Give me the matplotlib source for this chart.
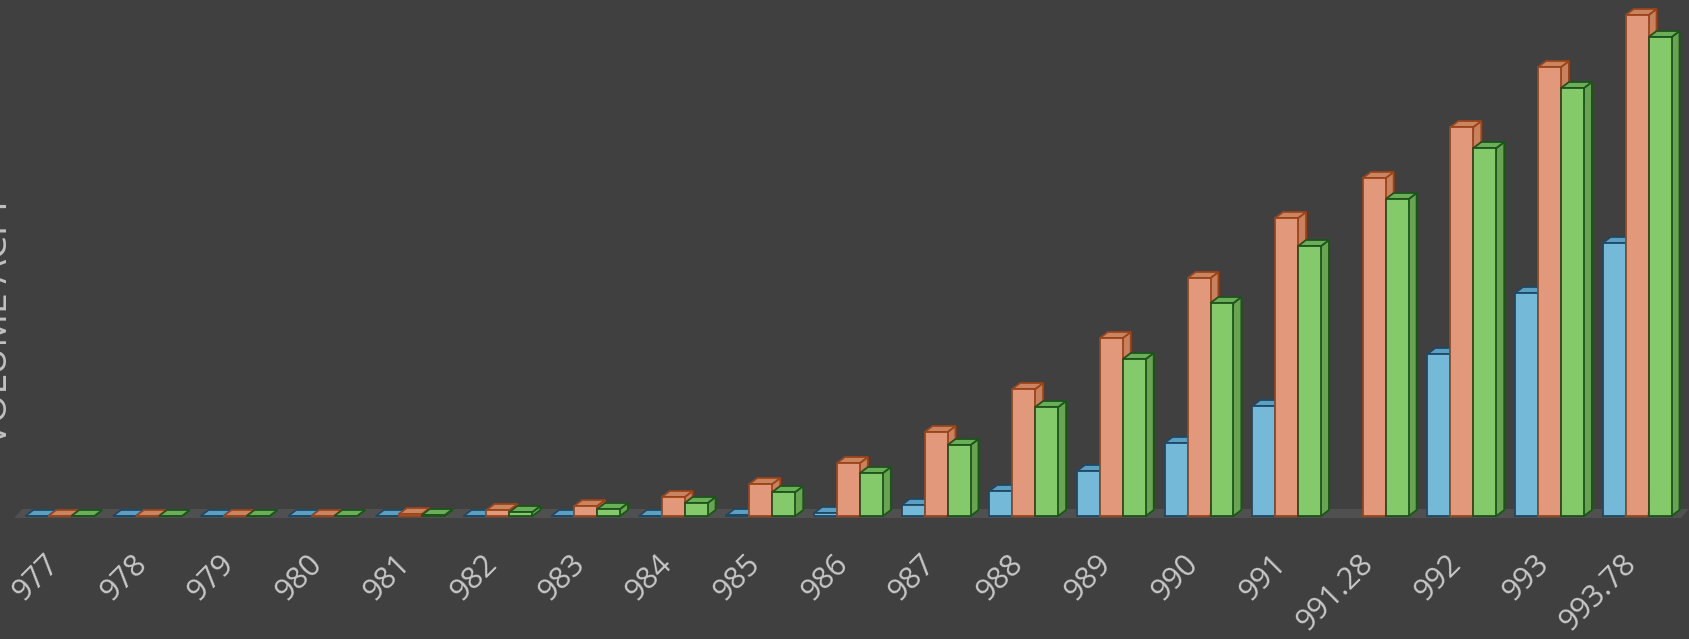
import numpy as np
import matplotlib
matplotlib.use('Agg')
from matplotlib import pyplot as plt
from matplotlib.patches import Polygon
from matplotlib.transforms import ScaledTranslation

# elevation (ft) categories and volumes (arbitrary units)
elev_labels=['977','978','979','980','981','982','983','984','985','986','987','988','989','990','991','991.28','992','993','993.78']
vol_blue=[0,0,0,0,0,0,0,0,1,3,11,25,45,73,110,np.nan,162,223,273]
vol_orange=[0,0,0,0,2,6,10,19,32,53,84,127,178,238,298,338,389,449,501]
vol_green=[0,0,0,0,1,4,7,13,24,43,71,109,157,213,270,317,368,428,479]

BG='#404040'
styles=[ #front, top, side, edge
	('#74b9d8','#5d9fc0','#5a98b8','#1c4a66'),
	('#e2987a','#c98462','#c7825f','#9c4418'),
	('#84c96a','#6cae58','#68a452','#1d531d'),
]

def bar3d(ax,x,w,h,dx,dy,front,top,side,edge):
	lw=1.3
	ax.add_patch(Polygon([(x,0),(x+w,0),(x+w+dx,dy),(x+w+dx,h+dy),(x+w,h)],closed=True,fc=side,ec=edge,lw=lw,clip_on=False))
	ax.add_patch(Polygon([(x,h),(x+w,h),(x+w+dx,h+dy),(x+dx,h+dy)],closed=True,fc=top,ec=edge,lw=lw,clip_on=False))
	ax.add_patch(Polygon([(x,0),(x+w,0),(x+w,h),(x,h)],closed=True,fc=front,ec=edge,lw=lw,clip_on=False))

def main():
	plt.rcParams['font.family']=['Open Sans','DejaVu Sans']
	fig=plt.figure(figsize=(16.9,6.39),dpi=100,facecolor=BG)
	ax=fig.add_axes([16/1690,123/639,1665/1690,516/639])
	ax.set_facecolor(BG)
	n=len(elev_labels)
	ax.set_xlim(-0.5,n-0.5)
	ax.set_ylim(0,516)
	for s in ax.spines.values():
		s.set_visible(False)

	w=0.262;dx=0.09;dy=6
	# floor
	ax.add_patch(Polygon([(-0.52,-2),(n-0.5,-2),(n-0.5+dx,dy+1),(-0.52+dx,dy+1)],closed=True,fc='#505050',ec='none',clip_on=False))

	series=[vol_blue,vol_orange,vol_green]
	for i in range(n):
		for k,vals in enumerate(series):
			v=vals[i]
			if np.isnan(v):
				continue
			x=i-1.5*w+k*w
			bar3d(ax,x,w,v,dx,dy,*styles[k])

	ax.set_yticks([])
	ax.set_xticks(range(n))
	ax.set_xticklabels(elev_labels,rotation=45,ha='right',va='center',rotation_mode='anchor',fontsize=22,color='#c8c8c8')
	ax.tick_params(axis='x',length=0,pad=31)
	off=ScaledTranslation(-5/100,0,fig.dpi_scale_trans)
	for t in ax.get_xticklabels():
		t.set_transform(t.get_transform()+off)
	fig.text(7/1690,1-320/639,'VOLUME ACFT',rotation=90,ha='center',va='baseline',rotation_mode='anchor',fontsize=27,color='#c0c0c0')
	fig.savefig('out.png',dpi=100,facecolor=BG)

if __name__ == '__main__':
	main()
